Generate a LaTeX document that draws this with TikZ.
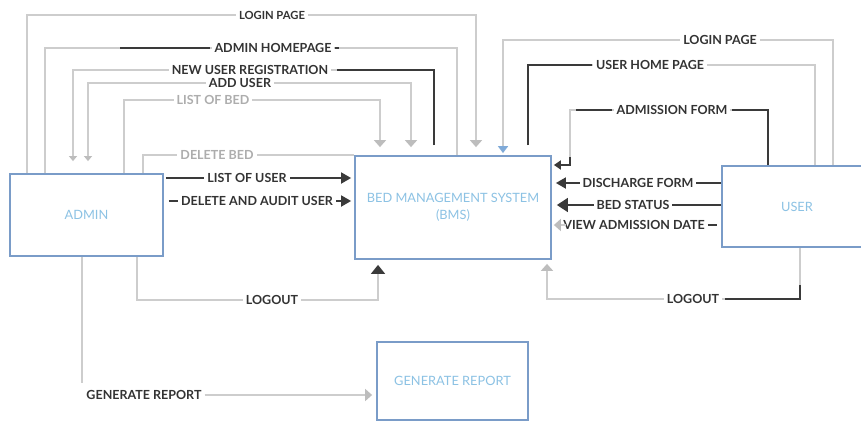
\documentclass[tikz,border=0pt]{standalone}
\usepackage{fontspec}
\setmainfont{Lato}
\usetikzlibrary{arrows.meta}
\definecolor{boxline}{HTML}{7A9CC8}
\definecolor{boxtext}{HTML}{8CC2E4}
\definecolor{lline}{HTML}{CDCDCD}
\definecolor{dline}{HTML}{3A3A3A}
\definecolor{ltext}{HTML}{333333}
\definecolor{gtext}{HTML}{ADADAD}
\definecolor{barrow}{HTML}{7FAAD8}
\definecolor{garrow}{HTML}{BDBDBD}
\begin{document}
\begin{tikzpicture}[x=1pt,y=-1pt,
  box/.style={draw=boxline, line width=1.8pt, fill=white, text=boxtext,
    font=\fontsize{12.8}{17}\selectfont, align=center, inner sep=0pt},
  light/.style={draw=lline, line width=1.7pt},
  dark/.style={draw=dline, line width=1.8pt},
  lbl/.style={text=ltext, font=\bfseries\fontsize{12.5}{14}\selectfont, fill=white, inner xsep=3pt, inner ysep=1.5pt},
  glbl/.style={lbl, text=gtext},
  gtip/.style={-{Triangle[width=12pt,length=7pt,color=garrow]}},
  stip/.style={-{Triangle[width=8pt,length=5pt,color=garrow]}},
  btip/.style={-{Triangle[width=10pt,length=7pt,color=barrow]}},
  dtip/.style={-{Triangle[width=11pt,length=10pt,color=dline]}},
  dtipL/.style={-{Triangle[width=14pt,length=11pt,color=dline]}},
  dtipB/.style={-{Triangle[width=14pt,length=9pt,color=dline]}},
]
\useasboundingbox (0,0) rectangle (861,423);
\fill[white] (0,0) rectangle (861,423);

% boxes
\node[box, minimum width=153pt, minimum height=82pt] (admin) at (86.5,215) {ADMIN};
\node[box, minimum width=196pt, minimum height=103pt] (bms) at (453,207.5) {BED MANAGEMENT SYSTEM\\(BMS)};
\node[box, minimum width=150pt, minimum height=81pt] (user) at (797,206.5) {USER};
\node[box, minimum width=151pt, minimum height=78pt] (report) at (452.5,381) {GENERATE REPORT};

% ---------- admin side ----------
% login page
\draw[light, gtip, shorten >=8pt] (27,0 |- admin.north) |- (476,15) -- (476,0 |- bms.north);
% admin homepage
\draw[light] (45,0 |- admin.north) |- (457,48) -- (457,0 |- bms.north);
\draw[dark] (120,48) -- (210,48);
% new user registration
\draw[light, stip, shorten <=10pt, shorten >=12pt] (434,0 |- bms.north) |- (73,70) -- (73,0 |- admin.north);
\draw[dark, shorten <=10pt] (434,0 |- bms.north) |- (337,70);
% add user
\draw[light, {Triangle[width=8pt,length=5pt,color=garrow]}-{Triangle[width=12pt,length=7pt,color=garrow]}, shorten <=12pt, shorten >=8pt] (88,0 |- admin.north) |- (411,83) -- (411,0 |- bms.north);
% list of bed
\draw[light, gtip, shorten >=8pt] (124,0 |- admin.north) |- (380,100) -- (380,0 |- bms.north);
% delete bed
\draw[light] (143,0 |- admin.north) |- (bms.north west);
% list of user
\draw[dark, dtip, shorten <=2pt, shorten >=3pt] (admin.east |- 0,178) -- (bms.west |- 0,178);
% delete and audit user
\draw[dark, dtip, shorten <=5pt, shorten >=3pt] (admin.east |- 0,201) -- (bms.west |- 0,201);
% logout
\draw[light, dtipB, shorten >=5pt] (137,0 |- admin.south) |- (378,300) -- (378,0 |- bms.south);
% generate report
\draw[light] (82,0 |- admin.south) -- (82,383);

% ---------- user side ----------
% login page
\draw[light, btip, shorten >=2pt] (833,0 |- user.north) |- (503,40) -- (503,0 |- bms.north);
% user home page
\draw[light, shorten <=10pt] (528,0 |- bms.north) |- (815,65) -- (815,0 |- user.north);
\draw[dark, shorten <=10pt] (528,0 |- bms.north) |- (592,65);
% admission form
\draw[light] (768,0 |- user.north) |- (570,110) -- (570,157);
\draw[dark] (768,0 |- user.north) |- (732,110);
\draw[dark] (612,110) -- (576,110);
\draw[dark, -{Triangle[width=9pt,length=7pt,color=dline]}, shorten >=2pt] (570,157) |- (bms.east |- 0,165);
% discharge form
\draw[dark, dtip, shorten >=4pt] (user.west |- 0,183) -- (bms.east |- 0,183);
% bed status
\draw[dark, dtipL, shorten >=5pt] (user.west |- 0,205) -- (bms.east |- 0,205);
% logout
\draw[light, gtip, shorten >=4pt] (800,0 |- user.south) |- (547,299) -- (547,0 |- bms.south);
\draw[dark] (800,285) |- (725,299);

% ---------- labels ----------
\node[lbl, font=\bfseries\fontsize{11.2}{13}\selectfont] (tlogin) at (272,15) {LOGIN PAGE};
\node[lbl] (thome) at (273,48) {ADMIN HOMEPAGE};
\draw[dark] (thome.east) -- ++(4,0);
\node[lbl] (treg) at (250,70) {NEW USER REGISTRATION};
\node[lbl] (tadd) at (240,83) {ADD USER};
\node[glbl] (tlbed) at (213,100) {LIST OF BED};
\node[glbl] (tdbed) at (217,155) {DELETE BED};
\node[lbl] (tluser) at (247,178) {LIST OF USER};
\node[lbl] (tdaudit) at (257,201) {DELETE AND AUDIT USER};
\node[lbl] (tlogout) at (272,300) {LOGOUT};
\node[lbl] (tgen) at (144,395) {GENERATE REPORT};
\draw[light, gtip, shorten >=4pt] (tgen.east) -- (report.west |- tgen.east);

\node[lbl] (ulogin) at (720,40) {LOGIN PAGE};
\node[lbl] (uhome) at (650,65) {USER HOME PAGE};
\node[lbl] (uadm) at (672,110) {ADMISSION FORM};
\node[lbl] (udis) at (638,183) {DISCHARGE FORM};
\node[lbl] (ubed) at (633,205) {BED STATUS};
\node[lbl] (uview) at (634,225) {VIEW ADMISSION DATE};
\draw[dark, shorten >=4pt] (uview.east) -- (user.west |- uview.east);
\draw[light, gtip, shorten >=2pt] ([xshift=6pt]uview.west) -- (bms.east |- uview.west);
\node[lbl] (ulogout) at (693,299) {LOGOUT};
\end{tikzpicture}
\end{document}
